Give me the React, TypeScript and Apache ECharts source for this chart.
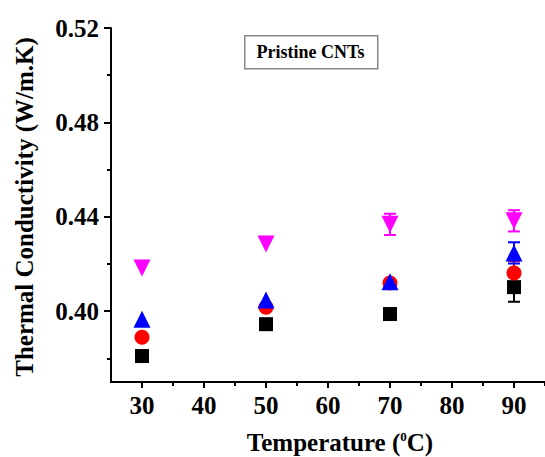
import React, { useEffect, useRef } from "react";
import * as echarts from "echarts";

const temperatures = [30, 50, 70, 90];
const seriesNames = ["S1", "S2", "S3", "S4"];
const blackValues = [0.381, 0.3945, 0.3988, 0.4102];
const redValues = [0.389, 0.4017, 0.412, 0.4162];
const blueValues = [0.3966, 0.4047, 0.4125, 0.4247];
const magentaValues = [0.4183, 0.4285, 0.4368, 0.4383];
const blackErrors = [0, 0, 0, 0.0062];
const redErrors = [0, 0, 0, 0.005];
const blueErrors = [0, 0, 0, 0.0045];
const magentaErrors = [0, 0, 0.0045, 0.0045];
const xLabelValues = [30, 40, 50, 60, 70, 80, 90];
const xMinorValues = [35, 45, 55, 65, 75, 85, 95];
const yLabelValues = [0.4, 0.44, 0.48, 0.52];
const yMinorValues = [0.38, 0.42, 0.46, 0.5];
const titleText = "Pristine CNTs";

const FONT = "'Liberation Serif', 'Times New Roman', serif";

export default function App() {
  const ref = useRef<HTMLDivElement>(null);
  useEffect(() => {
    document.body.style.margin = "0";
    const chart = echarts.init(ref.current!, null, { renderer: "svg" });
    const colors = ["#000000", "#ff0000", "#0000ff", "#ff00ff"];
    const values = [blackValues, redValues, blueValues, magentaValues];
    const errors = [blackErrors, redErrors, blueErrors, magentaErrors];
    const symbols = ["rect", "circle", "triangle", "triangle"];
    const sizes = [14, 15, 17, 17];
    const rotates = [0, 0, 0, 180];

    const errorSeries = values.map((vals, i) => ({
      type: "custom",
      name: seriesNames[i] + " err",
      xAxisIndex: 0,
      yAxisIndex: 0,
      z: 2,
      data: vals.map((v, j) => [temperatures[j], v - errors[i][j], v + errors[i][j]]),
      renderItem: (params: any, api: any) => {
        const x = api.value(0);
        if (api.value(2) - api.value(1) <= 0) return null;
        const lo = api.coord([x, api.value(1)]);
        const hi = api.coord([x, api.value(2)]);
        const cap = 6;
        const st = { stroke: colors[i], lineWidth: 2 };
        return {
          type: "group",
          children: [
            { type: "line", shape: { x1: lo[0], y1: lo[1], x2: hi[0], y2: hi[1] }, style: st },
            { type: "line", shape: { x1: lo[0] - cap, y1: lo[1], x2: lo[0] + cap, y2: lo[1] }, style: st },
            { type: "line", shape: { x1: hi[0] - cap, y1: hi[1], x2: hi[0] + cap, y2: hi[1] }, style: st },
          ],
        };
      },
    }));

    const scatterSeries = values.map((vals, i) => ({
      type: "scatter",
      name: seriesNames[i],
      xAxisIndex: 0,
      yAxisIndex: 0,
      z: 3,
      symbol: symbols[i],
      symbolSize: sizes[i],
      symbolRotate: rotates[i],
      itemStyle: { color: colors[i], opacity: 1 },
      data: vals.map((v, j) => [temperatures[j], v]),
    }));

    const labelStyle = { fontFamily: FONT, fontWeight: "bold", fontSize: 25, color: "#000" };

    chart.setOption({
      animation: false,
      grid: { left: 111, right: 0, top: 28, bottom: 75, containLabel: false },
      xAxis: [
        {
          type: "value",
          min: 25,
          max: 95,
          axisLine: { show: true, lineStyle: { color: "#000", width: 2 } },
          axisTick: { show: true, inside: false, length: 6, customValues: xLabelValues, lineStyle: { color: "#000", width: 2 } },
          axisLabel: { show: true, margin: 11, customValues: xLabelValues, ...labelStyle },
          splitLine: { show: false },
        },
        {
          type: "value",
          min: 25,
          max: 95,
          position: "bottom",
          axisLine: { show: false },
          axisTick: { show: true, inside: false, length: 4, customValues: xMinorValues, lineStyle: { color: "#000", width: 2 } },
          axisLabel: { show: false },
          splitLine: { show: false },
        },
      ],
      yAxis: [
        {
          type: "value",
          min: 0.37,
          max: 0.52,
          axisLine: { show: true, lineStyle: { color: "#000", width: 2 } },
          axisTick: { show: true, inside: false, length: 7, customValues: yLabelValues, lineStyle: { color: "#000", width: 2 } },
          axisLabel: { show: true, margin: 12, customValues: yLabelValues, formatter: (v: number) => v.toFixed(2), ...labelStyle },
          splitLine: { show: false },
        },
        {
          type: "value",
          min: 0.37,
          max: 0.52,
          position: "left",
          axisLine: { show: false },
          axisTick: { show: true, inside: false, length: 4, customValues: yMinorValues, lineStyle: { color: "#000", width: 2 } },
          axisLabel: { show: false },
          splitLine: { show: false },
        },
      ],
      series: [...errorSeries, ...scatterSeries],
      graphic: [
        {
          type: "rect",
          left: 244,
          top: 35,
          shape: { width: 133, height: 33 },
          style: { fill: "#fff", stroke: "#888", lineWidth: 1.5 },
          z: 10,
        },
        {
          type: "text",
          x: 310.5,
          y: 52,
          z: 11,
          style: {
            text: titleText,
            font: `bold 18px ${FONT}`,
            fill: "#000",
            align: "center",
            verticalAlign: "middle",
          },
        },
        {
          type: "text",
          x: 24,
          y: 207,
          rotation: Math.PI / 2,
          z: 11,
          style: {
            text: "Thermal Conductivity (W/m.K)",
            font: `bold 25px ${FONT}`,
            fill: "#000",
            align: "center",
            verticalAlign: "middle",
          },
        },
        {
          type: "text",
          x: 340,
          y: 442,
          z: 11,
          style: {
            text: "Temperature ({s|0}C)",
            font: `bold 25px ${FONT}`,
            fill: "#000",
            align: "center",
            verticalAlign: "middle",
            rich: {
              s: { font: `bold 13px ${FONT}`, fill: "#000", verticalAlign: "top", padding: [0, 0, 12, 0] },
            },
          },
        },
      ],
    });
    return () => chart.dispose();
  }, []);
  return <div ref={ref} style={{ width: 545, height: 457 }} />;
}
